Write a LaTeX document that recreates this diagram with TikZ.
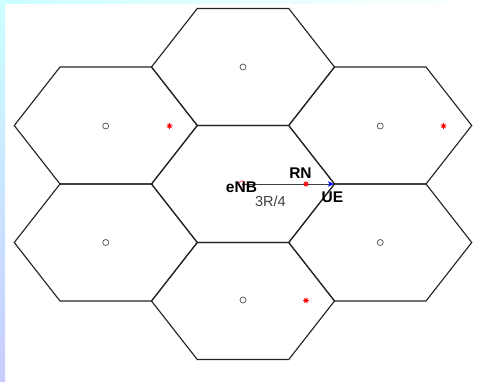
\documentclass[tikz,border=0pt]{standalone}
\usepackage{fontspec}
\setmainfont{Liberation Sans}
\definecolor{stripTop}{HTML}{CCFFFF}
\definecolor{stripBot}{HTML}{C8CCFF}
\definecolor{linkgray}{HTML}{404040}
\definecolor{bsgray}{HTML}{505050}
\tikzset{
  hexline/.style={black!85, line width=1.15pt, line join=miter},
  hexcell/.pic={\draw[hexline] (-91.5,0) -- (-45.75,-58.5) -- (45.75,-58.5) -- (91.5,0) -- (45.75,58.5) -- (-45.75,58.5) -- cycle;},
  bs/.style={circle, draw=bsgray, line width=0.7pt, minimum size=6pt, inner sep=0pt},
  rnmark/.pic={\draw[red, line width=0.8pt] (-2.8,0) -- (2.8,0) (0,-2.8) -- (0,2.8) (-1.9,-1.9) -- (1.9,1.9) (-1.9,1.9) -- (1.9,-1.9);},
  uemark/.pic={\fill[blue] (-3,-2.8) -- (2.5,0) -- (-3,2.8) -- (-1.6,0) -- cycle;},
  lab/.style={font=\fontsize{15.5}{18}\selectfont\bfseries, inner sep=0pt, anchor=base, text=black},
  dist/.style={font=\fontsize{14.5}{17}\selectfont, inner sep=0pt, anchor=base, text=linkgray}
}
\begin{document}
\begin{tikzpicture}[x=1pt,y=-1pt]
\useasboundingbox (0,0) rectangle (488,381);
\fill[white] (0,0) rectangle (488,381);
\shade[top color=stripTop, bottom color=stripBot] (0,0) rectangle (5,381);
\shade[left color=stripTop, right color=white] (5,0) rectangle (488,3.2);
% hexagonal cells
\pic at (243,67) {hexcell};
\pic at (105.75,125.5) {hexcell};
\pic at (380.25,125.5) {hexcell};
\pic at (243,184) {hexcell};
\pic at (105.75,242.5) {hexcell};
\pic at (380.25,242.5) {hexcell};
\pic at (243,301) {hexcell};
% base stations
\node[bs] (bs1) at (243,67) {};
\node[bs] (bs2) at (105.75,126) {};
\node[bs] (bs3) at (380.25,126) {};
\node[bs] (bs5) at (105.75,242.5) {};
\node[bs] (bs6) at (380.25,242.5) {};
\node[bs] (bs7) at (243,300) {};
% center eNB, RN, UE
\coordinate (enb) at (242,184);
\coordinate (rn) at (306,184);
\coordinate (ue) at (331,184);
\node[circle, draw=red!70, line width=0.7pt, minimum size=6.5pt, inner sep=0pt] (enbmark) at (enb) {};
\draw[linkgray, line width=1pt] (enb) -- (ue);
% relay nodes
\coordinate (rn2) at (169.5,126);
\coordinate (rn3) at (443.5,126);
\coordinate (rn7) at (306,300.5);
\pic at (rn2) {rnmark};
\pic at (rn3) {rnmark};
\pic at (rn7) {rnmark};
\pic at (rn) {rnmark};
\pic at (ue) {uemark};
% labels
\node[lab] (enblab) at (241.5,192.5) {eNB};
\node[lab] (rnlab) at (300.5,178) {RN};
\node[lab] (uelab) at (332.5,202.5) {UE};
\node[dist] (dlab) at (270.5,206) {3R/4};
\end{tikzpicture}
\end{document}
